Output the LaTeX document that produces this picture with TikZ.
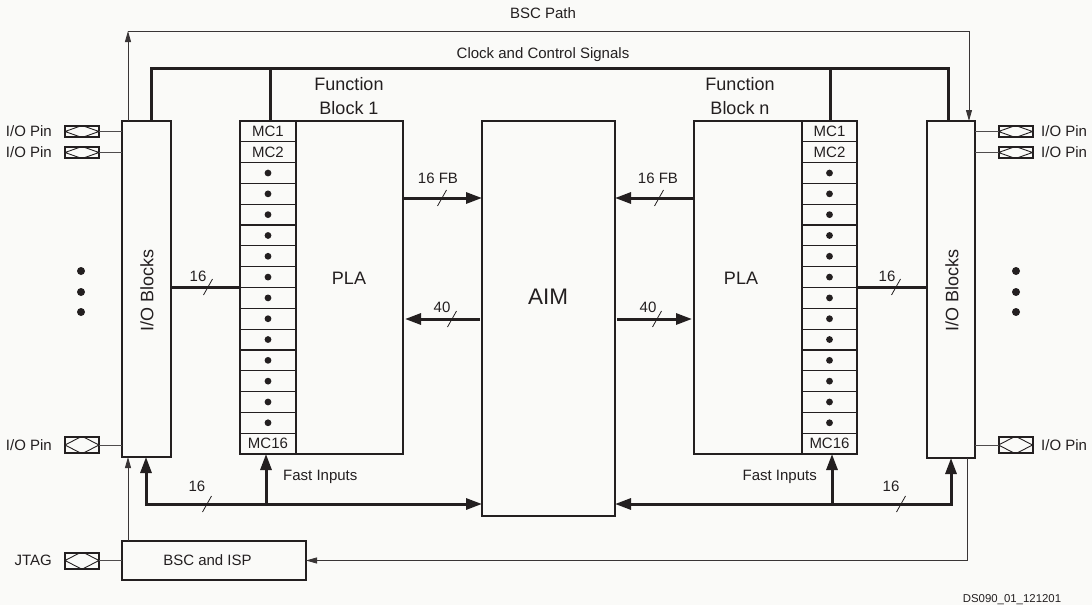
\documentclass[tikz,border=0pt]{standalone}
\usepackage{fontspec}
\setmainfont{Liberation Sans}
\usetikzlibrary{arrows.meta,calc}
\definecolor{ink}{HTML}{231F20}
\definecolor{bg}{HTML}{FAFAF8}
\begin{document}
\begin{tikzpicture}[x=1pt,y=-1pt,
  box/.style={draw=ink, line width=1.6pt, inner sep=0pt, outer sep=0pt},
  bus/.style={draw=ink, line width=3pt},
  busarr/.style={bus, -{Triangle[length=16pt,width=11pt]}},
  busarrb/.style={bus, {Triangle[length=16pt,width=11pt]}-{Triangle[length=16pt,width=11pt]}},
  bscline/.style={draw=ink!90, line width=0.9pt},
  bscarr/.style={bscline, -{Triangle[length=11pt,width=6pt]}},
  wire/.style={draw=ink!80, line width=0.9pt},
  cellsep/.style={draw=ink, line width=1.2pt},
  slash/.style={draw=ink, line width=0.8pt},
  txt/.style={text=ink, inner sep=0pt, font=\fontsize{15}{18}\selectfont, text height=10.7pt, text depth=0pt},
  bigtxt/.style={text=ink, inner sep=0pt, font=\fontsize{18}{24}\selectfont},
  aimtxt/.style={text=ink, inner sep=0pt, font=\fontsize{22.5}{26}\selectfont, text height=16.1pt, text depth=0pt},
  smalltxt/.style={text=ink, inner sep=0pt, font=\fontsize{11.4}{13}\selectfont, text height=8.2pt, text depth=0pt},
  iopin/.style={draw=ink, line width=2pt, minimum width=34pt, minimum height=11pt, inner sep=0pt, outer sep=0pt,
    path picture={\draw[ink, line width=0.9pt] (path picture bounding box.west) -- ([xshift=-1.5pt]path picture bounding box.north) -- ([xshift=1.5pt]path picture bounding box.north) -- (path picture bounding box.east) -- ([xshift=1.5pt]path picture bounding box.south) -- ([xshift=-1.5pt]path picture bounding box.south) -- cycle;}},
  iopinb/.style={iopin, minimum height=16pt},
  dot/.style={fill=ink}
]
\useasboundingbox (0,0) rectangle (1092,605);
\fill[bg] (0,0) rectangle (1092,605);

% helper coordinates
\coordinate (xb) at (128,0);
\coordinate (ytop) at (0,31);
\coordinate (xr) at (969,0);
\coordinate (xr2) at (967,0);
\coordinate (yclk) at (0,68);
\coordinate (xcl) at (151,0);
\coordinate (xcr) at (948,0);
\coordinate (xc1) at (270,0);
\coordinate (xcn) at (830,0);
\coordinate (yfb) at (0,198);
\coordinate (y40) at (0,319);
\coordinate (y16) at (0,287);
\coordinate (ybus) at (0,504);
\coordinate (xbl) at (146,0);
\coordinate (xfl) at (266,0);
\coordinate (xbr) at (951,0);
\coordinate (xfr) at (832,0);
\coordinate (ybsc) at (0,560.5);
\coordinate (mcr1) at (296,0);
\coordinate (mcln) at (802,0);

% main boxes
\node[box, minimum width=49pt, minimum height=336pt] (lio) at (146.5,289) {};
\node[box, minimum width=48pt, minimum height=337pt] (rio) at (951,289.5) {};
\node[box, minimum width=163pt, minimum height=333pt] (fb1) at (321.5,287.5) {};
\node[box, minimum width=163pt, minimum height=333pt] (fbn) at (775.5,287.5) {};
\node[box, minimum width=133pt, minimum height=395pt] (aim) at (548.5,318.5) {};
\node[box, minimum width=184pt, minimum height=39pt] (bsc) at (214,560.5) {};
\node[txt] (bsclbl) at (207.5,560.5) {BSC and ISP};

% macrocell columns
\draw[box] (fb1.north -| mcr1) -- (fb1.south -| mcr1);
\draw[box] (fbn.north -| mcln) -- (fbn.south -| mcln);
\foreach \k in {1,...,15} {
  \draw[cellsep] ($(fb1.north west)+(0,\k*20.8125)$) -- ++(56,0);
  \draw[cellsep] ($(fbn.north east)+(-55,\k*20.8125)$) -- ++(55,0);
}
\node[txt] (a1) at (268,131.4) {MC1};
\node[txt] (a2) at (268,152.2) {MC2};
\node[txt] (a16) at (268,443.6) {MC16};
\node[txt] (b1) at (829.5,131.4) {MC1};
\node[txt] (b2) at (829.5,152.2) {MC2};
\node[txt] (b16) at (829.5,443.6) {MC16};
\foreach \k in {3,...,15} {
  \fill[dot] (268,{121+(\k-0.5)*20.8125}) circle (3.4pt);
  \fill[dot] (829.5,{121+(\k-0.5)*20.8125}) circle (3.4pt);
}

% labels in/around blocks
\node[bigtxt, align=center] (fb1lbl) at (349,96) {Function\\Block 1};
\node[bigtxt, align=center] (fbnlbl) at (740,96) {Function\\Block n};
\node[bigtxt] (pla1) at (349,278) {PLA};
\node[bigtxt] (plan) at (741,278) {PLA};
\node[aimtxt] (aimlbl) at (548,296) {AIM};
\node[bigtxt, rotate=90] (liolbl) at (147,290) {I/O Blocks};
\node[bigtxt, rotate=90] (riolbl) at (952,290) {I/O Blocks};

% clock and control bus
\draw[bus, line join=miter] (lio.north -| xcl) -- (xcl |- yclk) -- (xcr |- yclk) -- (rio.north -| xcr);
\draw[bus] (fb1.north -| xc1) -- (xc1 |- yclk);
\draw[bus] (fbn.north -| xcn) -- (xcn |- yclk);
\node[txt] (clk) at (543,53) {Clock and Control Signals};

% BSC path
\draw[bscarr] (bsc.north -| xb) -- (lio.south -| xb);
\draw[bscarr] (lio.north -| xb) -- (xb |- ytop);
\draw[bscarr] (xb |- ytop) -- (xr |- ytop) -- (rio.north -| xr);
\draw[bscarr] (rio.south -| xr2) -- (xr2 |- ybsc) -- (bsc.east);
\node[txt] (bscp) at (543,13) {BSC Path};

% FB <-> AIM
\draw[busarr] (fb1.east |- yfb) -- (aim.west |- yfb);
\draw[busarr] (fbn.west |- yfb) -- (aim.east |- yfb);
\draw[busarr] ([xshift=-2pt]aim.west |- y40) -- ([xshift=2pt]fb1.east |- y40);
\draw[busarr] ([xshift=2pt]aim.east |- y40) -- ([xshift=-2pt]fbn.west |- y40);
\node[txt] (fbl1) at (438,178) {16 FB};
\node[txt] (fbl2) at (658,178) {16 FB};
\node[txt] (f40a) at (442,307) {40};
\node[txt] (f40b) at (648,307) {40};

% IO <-> FB 16 buses
\draw[bus] (lio.east |- y16) -- (fb1.west |- y16);
\draw[bus] (fbn.east |- y16) -- (rio.west |- y16);
\node[txt] (s16a) at (198,276) {16};
\node[txt] (s16b) at (887,276) {16};

% fast input buses
\draw[busarrb, line join=miter] (lio.south -| xbl) -- (xbl |- ybus) -- (aim.west |- ybus);
\draw[busarr] (xfl |- ybus) -- (fb1.south -| xfl);
\draw[busarrb, line join=miter] (rio.south -| xbr) -- (xbr |- ybus) -- (aim.east |- ybus);
\draw[busarr] (xfr |- ybus) -- (fbn.south -| xfr);
\node[txt, anchor=west] (fi1) at (283,475) {Fast Inputs};
\node[txt, anchor=east] (fin) at (817,475) {Fast Inputs};
\node[txt] (b16a) at (197,486) {16};
\node[txt] (b16b) at (891,486) {16};

% bus width slashes
\foreach \p in {(208,287),(896,287),(442,198),(659,198),(452,319),(657,319),(207,504),(901,504)}
  \draw[slash] \p ++(-4.5,8) -- ++(9,-16);

% I/O pins left
\node[iopin] (pl1) at (82,131.5) {};
\node[iopin] (pl2) at (82,152.5) {};
\node[iopinb] (pl3) at (82,445) {};
\node[iopinb] (jtag) at (82,560.5) {};
\draw[wire] (pl1.east) -- (pl1 -| lio.west);
\draw[wire] (pl2.east) -- (pl2 -| lio.west);
\draw[wire] (pl3.east) -- (pl3 -| lio.west);
\draw[wire] (jtag.east) -- (bsc.west);
\node[txt, anchor=east] (lpl1) at (52,131.5) {I/O Pin};
\node[txt, anchor=east] (lpl2) at (52,152.5) {I/O Pin};
\node[txt, anchor=east] (lpl3) at (52,445) {I/O Pin};
\node[txt, anchor=east] (ljtag) at (52,560.5) {JTAG};

% I/O pins right
\node[iopin] (pr1) at (1015.5,131.5) {};
\node[iopin] (pr2) at (1015.5,152.5) {};
\node[iopinb] (pr3) at (1015.5,445) {};
\draw[wire] (rio.east |- pr1) -- (pr1.west);
\draw[wire] (rio.east |- pr2) -- (pr2.west);
\draw[wire] (rio.east |- pr3) -- (pr3.west);
\node[txt, anchor=west] (lpr1) at (1041,131.5) {I/O Pin};
\node[txt, anchor=west] (lpr2) at (1041,152.5) {I/O Pin};
\node[txt, anchor=west] (lpr3) at (1041,445) {I/O Pin};

% vertical ellipsis dots
\foreach \yy in {271,292,312} {
  \fill[dot] (81,\yy) circle (4pt);
  \fill[dot] (1016,\yy) circle (4pt);
}

\node[smalltxt] (ds) at (1012,598) {DS090\_01\_121201};
\end{tikzpicture}
\end{document}
